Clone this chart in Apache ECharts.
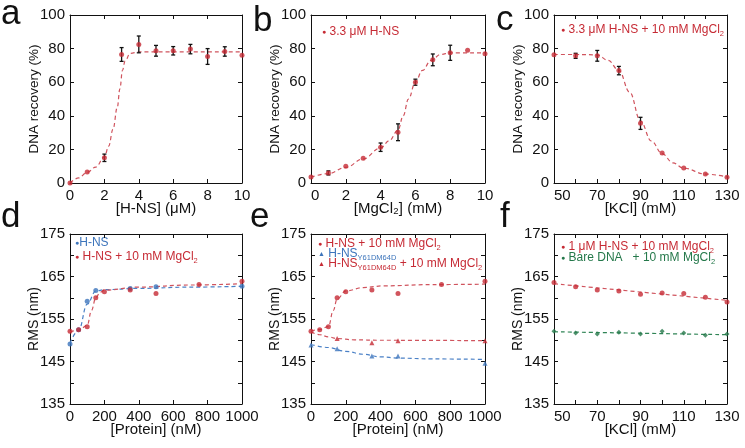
<!DOCTYPE html>
<html>
<head>
<meta charset="utf-8">
<script src="https://cdn.jsdelivr.net/npm/echarts@6/dist/echarts.min.js"></script>
<style>
  html, body { margin: 0; padding: 0; background: #fff; }
  #chart { width: 745px; height: 448px; }
</style>
</head>
<body>
<div id="chart"></div>
<script>
// colours
const RED = '#c62a34'
const BLUE = '#3c74bb'
const GREEN = '#24784a'
const FIT_RED = '#d0545e'
const FIT_BLUE = '#4a80c6'
const FIT_GREEN = '#2f8455'
const INK = '#111'
const FONT = '"Liberation Sans", Arial, Helvetica, sans-serif'

// a: DNA recovery vs [H-NS]
const hnsConc = [0, 1, 2, 3, 4, 5, 6, 7, 8, 9, 10]
const recoveryA = [0, 6.5, 15, 76.5, 82.5, 78.7, 78.7, 79.7, 75.3, 78.3, 76]
const errA = [0, 0, 2.2, 4.1, 5, 3.2, 2.5, 2.8, 4.7, 2.8, 0]
const fitA = [[0, 0], [0.5, 3], [1, 6.3], [1.5, 9.5], [2, 15.5], [2.25, 22], [2.5, 32], [2.75, 45], [2.9, 56], [3.05, 67], [3.2, 72.5], [3.5, 77.2], [4, 78], [10, 78]]

// b: DNA recovery vs [MgCl2]
const mgConc = [0, 1, 2, 3, 4, 5, 6, 7, 8, 9, 10]
const recoveryB = [3.5, 6, 10, 14.7, 21.3, 30.2, 60, 73.3, 77.5, 79, 77]
const errB = [0, 1.2, 0, 0, 2.5, 5, 1.8, 3.5, 4.5, 0, 0]
const fitB = [[0, 3.4], [1, 5.6], [2, 9.3], [3, 14.3], [4, 20.9], [4.5, 25.2], [5, 31.5], [5.3, 40], [5.6, 50], [6, 60], [6.4, 67], [6.9, 73], [7.45, 76.5], [8, 77.5], [10, 77.5]]

// c: DNA recovery vs [KCl]
const kclC = [50, 60, 70, 80, 90, 100, 110, 120, 130]
const recoveryC = [76.3, 75.7, 75.7, 66.9, 35.5, 17.8, 8.9, 5.3, 3.4]
const errC = [0, 1.5, 3.2, 2.5, 3.6, 0, 0, 0, 0]
const fitC = [[50, 76.5], [60, 76.5], [70, 76.3], [75, 73], [80, 67], [85, 54], [90, 37], [95, 25], [100, 17.5], [105, 12], [110, 8.8], [120, 5.3], [130, 3.6]]

// d: RMS vs [protein]
const protHNS = [0, 50, 100, 150, 350, 500, 1000]
const rmsHNS = [149.1, 152.5, 159.2, 161.7, 162.2, 162.6, 162.7]
const protMg = [0, 50, 100, 150, 200, 350, 500, 750, 1000]
const rmsMg = [152.1, 152.5, 153.2, 160.0, 161.4, 161.8, 161.0, 163.1, 163.9]
const fitHNS = [[0, 149.3], [50, 152.3], [100, 158.5], [150, 161.6], [200, 161.9], [400, 162.2], [700, 162.5], [1000, 162.7]]
const fitMgD = [[0, 152], [50, 152.3], [100, 153.5], [125, 157], [150, 160], [175, 161.3], [200, 161.8], [400, 162.5], [700, 163], [1000, 163.3]]

// e: RMS vs [protein], Y61DM64D mutant
const protMut = [0, 150, 350, 500, 1000]
const rmsMut = [148.9, 148.0, 146.3, 146.3, 144.6]
const protMutMg = [150, 350, 500, 1000]
const rmsMutMg = [150.4, 149.4, 149.9, 149.9]
const fitMgE = [[0, 152.2], [50, 152.5], [100, 153.2], [128, 157], [150, 159.7], [200, 161.6], [300, 162.4], [420, 162.8], [700, 163.1], [1000, 163.2]]
const fitMut = [[0, 149], [100, 148.3], [200, 147.4], [300, 146.7], [400, 146.1], [500, 145.8], [700, 145.6], [1000, 145.5]]
const fitMutMg = [[0, 152], [50, 151.3], [100, 150.8], [150, 150.4], [250, 150.1], [400, 150], [1000, 149.9]]

// f: RMS vs [KCl]
const kclF = [50, 60, 70, 80, 90, 100, 110, 120, 130]
const rmsHnsKcl = [163.6, 162.6, 161.8, 161.6, 160.8, 161.1, 161.0, 160.1, 159.0]
const rmsBareKcl = [152.1, 151.7, 151.5, 151.9, 151.5, 152.1, 151.7, 151.2, 151.5]
const fitHnsKcl = [[50, 163.3], [130, 159.4]]
const fitBareKcl = [[50, 152], [130, 151.3]]

// grid boxes
const grids = [
  { left: 70, top: 15, width: 172, height: 168 },
  { left: 311, top: 15, width: 174, height: 168 },
  { left: 554, top: 15, width: 173, height: 168 },
  { left: 70, top: 234, width: 172, height: 170 },
  { left: 311, top: 234, width: 174, height: 170 },
  { left: 554, top: 234, width: 173, height: 170 }
]

const lbl = { fontSize: 15, color: INK, fontFamily: FONT }
const plain = v => String(v)
const every20from50 = v => ((v - 50) % 20 === 0 ? String(v) : '')
const every10from135 = v => ((v - 135) % 10 === 0 ? String(v) : '')

function axisBase (g, o) {
  return {
    gridIndex: g, type: 'value', min: o.min, max: o.max, interval: o.interval,
    splitLine: { show: false },
    axisLine: { show: true, onZero: false, lineStyle: { color: INK, width: 1 } },
    axisTick: { show: true, inside: true, length: 4, lineStyle: { color: INK, width: 1 } }
  }
}

const xAxes = []
const yAxes = []
function addAxes (g, xo, yo) {
  xAxes.push({
    ...axisBase(g, xo), position: 'bottom',
    name: xo.name, nameLocation: 'middle', nameGap: 18, nameMoveOverlap: false,
    nameTextStyle: { fontSize: 15, color: INK, fontFamily: FONT },
    axisLabel: { ...lbl, margin: 5, formatter: xo.fmt || plain, showMinLabel: true, showMaxLabel: true, alignMinLabel: xo.alignMin }
  })
  xAxes.push({ ...axisBase(g, xo), position: 'top', axisLabel: { show: false } })
  yAxes.push({
    ...axisBase(g, yo), position: 'left',
    name: yo.name, nameLocation: 'middle', nameGap: yo.gap, nameMoveOverlap: false,
    nameTextStyle: { fontSize: yo.nameSize, color: INK, fontFamily: FONT },
    axisLabel: { ...lbl, margin: 5, formatter: yo.fmt || plain, showMinLabel: true, showMaxLabel: true }
  })
  yAxes.push({ ...axisBase(g, yo), position: 'right', axisLabel: { show: false } })
}

const yRec = { min: 0, max: 100, interval: 20, name: 'DNA recovery (%)', gap: 29, nameSize: 13.5 }
const yRms = { min: 135, max: 175, interval: 5, name: 'RMS (nm)', gap: 29, nameSize: 14, fmt: every10from135 }
addAxes(0, { min: 0, max: 10, interval: 2, name: '[H-NS] (μM)' }, yRec)
addAxes(1, { min: 0, max: 10, interval: 2, name: '[MgCl₂] (mM)', alignMin: 'left' }, yRec)
addAxes(2, { min: 50, max: 130, interval: 10, name: '[KCl] (mM)', fmt: every20from50, alignMin: 'left' }, yRec)
addAxes(3, { min: 0, max: 1000, interval: 200, name: '[Protein] (nM)' }, yRms)
addAxes(4, { min: 0, max: 1000, interval: 200, name: '[Protein] (nM)' }, yRms)
addAxes(5, { min: 50, max: 130, interval: 10, name: '[KCl] (mM)', fmt: every20from50, alignMin: 'left' }, yRms)

function points (g, xs, ys, color, symbol, size) {
  return {
    type: 'scatter', xAxisIndex: 2 * g, yAxisIndex: 2 * g,
    data: xs.map((x, i) => [x, ys[i]]),
    symbol, symbolSize: size, itemStyle: { color }, z: 5
  }
}

function fitLine (g, pts, color) {
  return {
    type: 'line', xAxisIndex: 2 * g, yAxisIndex: 2 * g, data: pts,
    symbol: 'none', smooth: 0.4, smoothMonotone: 'x',
    lineStyle: { color, width: 1.2, type: [4, 3] }, z: 2
  }
}

function errorBars (g, xs, ys, errs) {
  const data = []
  xs.forEach((x, i) => { if (errs[i] > 0) data.push([x, ys[i] - errs[i], ys[i] + errs[i]]) })
  return {
    type: 'custom', xAxisIndex: 2 * g, yAxisIndex: 2 * g, data, z: 4,
    encode: { x: 0, y: [1, 2] },
    renderItem (params, api) {
      const x = api.value(0)
      const lo = api.coord([x, api.value(1)])
      const hi = api.coord([x, api.value(2)])
      const st = { stroke: INK, lineWidth: 1.3 }
      return {
        type: 'group',
        children: [
          { type: 'line', shape: { x1: hi[0], y1: hi[1], x2: lo[0], y2: lo[1] }, style: st },
          { type: 'line', shape: { x1: hi[0] - 2, y1: hi[1], x2: hi[0] + 2, y2: hi[1] }, style: st },
          { type: 'line', shape: { x1: lo[0] - 2, y1: lo[1], x2: lo[0] + 2, y2: lo[1] }, style: st }
        ]
      }
    }
  }
}

const series = [
  fitLine(0, fitA, FIT_RED), errorBars(0, hnsConc, recoveryA, errA), points(0, hnsConc, recoveryA, RED, 'circle', 5),
  fitLine(1, fitB, FIT_RED), errorBars(1, mgConc, recoveryB, errB), points(1, mgConc, recoveryB, RED, 'circle', 5),
  fitLine(2, fitC, FIT_RED), errorBars(2, kclC, recoveryC, errC), points(2, kclC, recoveryC, RED, 'circle', 5),
  fitLine(3, fitHNS, FIT_BLUE), fitLine(3, fitMgD, FIT_RED),
  points(3, protHNS, rmsHNS, BLUE, 'circle', 5), points(3, protMg, rmsMg, RED, 'circle', 5),
  fitLine(4, fitMgE, FIT_RED), fitLine(4, fitMut, FIT_BLUE), fitLine(4, fitMutMg, FIT_RED),
  points(4, protMg, rmsMg, RED, 'circle', 5), points(4, protMut, rmsMut, BLUE, 'triangle', 5),
  points(4, protMutMg, rmsMutMg, RED, 'triangle', 5),
  fitLine(5, fitHnsKcl, FIT_RED), fitLine(5, fitBareKcl, FIT_GREEN),
  points(5, kclF, rmsHnsKcl, RED, 'circle', 5), points(5, kclF, rmsBareKcl, GREEN, 'diamond', 5)
]

// legend texts (rich text for subscripts)
const rich = {
  m: { fontSize: 12, fontFamily: FONT, lineHeight: 14 },
  s: { fontSize: 7.5, fontFamily: FONT, lineHeight: 14, padding: [8, 0, 0, 0] },
  k: { fontSize: 7, fontFamily: FONT, lineHeight: 14 }
}
function legendText (x, y, text, color) {
  return {
    type: 'text', x, y, silent: true,
    style: { text, rich, fill: color, font: '12px ' + FONT, align: 'left', verticalAlign: 'middle' }
  }
}
function panelLetter (x, baseline, ch) {
  return {
    type: 'text', x, y: baseline - 12, silent: true,
    style: { text: ch, fill: INK, font: '35px ' + FONT, align: 'left', verticalAlign: 'middle' }
  }
}

const graphic = [
  panelLetter(1, 26, 'a'), panelLetter(253, 33, 'b'), panelLetter(496, 32, 'c'),
  panelLetter(1, 229, 'd'), panelLetter(250, 229, 'e'), panelLetter(500, 229, 'f'),
  legendText(322, 32, '{k|●}{m| 3.3 μM H-NS}', RED),
  legendText(561, 30, '{k|●}{m| 3.3 μM H-NS + 10 mM MgCl}{s|2}', RED),
  legendText(75, 243, '{k|●}{m|H-NS}', BLUE),
  legendText(75, 257, '{k|●}{m| H-NS + 10 mM MgCl}{s|2}', RED),
  legendText(318, 244, '{k|●}{m| H-NS + 10 mM MgCl}{s|2}', RED),
  legendText(318, 254, '{k|▲}{m| H-NS}{s|Y61DM64D}', BLUE),
  legendText(318, 264, '{k|▲}{m| H-NS}{s|Y61DM64D}{m| + 10 mM MgCl}{s|2}', RED),
  legendText(561, 247, '{k|●}{m| 1 μM H-NS + 10 mM MgCl}{s|2}', RED),
  legendText(561, 258, '{k|●}{m| Bare DNA   + 10 mM MgCl}{s|2}', GREEN)
]

const chart = echarts.init(document.getElementById('chart'))
chart.setOption({
  animation: false,
  backgroundColor: '#fff',
  grid: grids.map(g => ({ ...g, outerBoundsMode: 'none' })),
  xAxis: xAxes,
  yAxis: yAxes,
  series,
  graphic
})
</script>
</body>
</html>
